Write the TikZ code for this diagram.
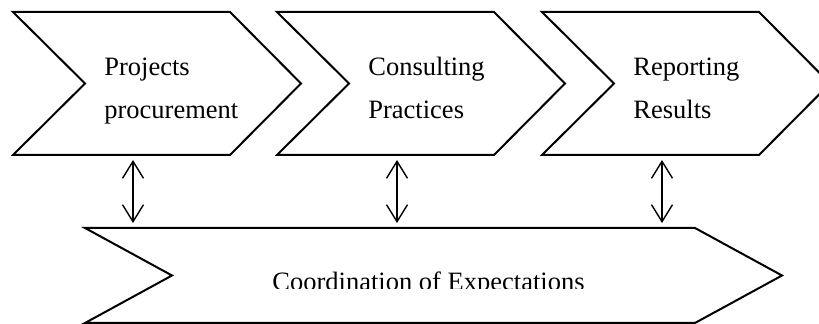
\documentclass[tikz,border=0pt]{standalone}
\usepackage{fontspec}
\setmainfont{Liberation Serif}
\usepackage{tikz}
\usetikzlibrary{arrows.meta, positioning}

\begin{document}
\begin{tikzpicture}[x=0.5pt, y=-0.5pt,
    chev/.style={draw, line width=1pt, line join=miter},
    lbl/.style={font=\fontsize{13.25}{21.5}\selectfont, align=left,
                anchor=base west, inner sep=0pt},
    dbl/.style={{Straight Barb[length=8.5pt,width=10.5pt]}-{Straight Barb[length=8.5pt,width=10.5pt]},
                line width=0.7pt}
  ]
    \useasboundingbox (0,0) rectangle (819,324);

    % Etapas (chevrons superiores)
    \foreach \x/\name/\txt in {13/proc/{Projects\\procurement},
                               277/cons/{Consulting\\Practices},
                               542/rep/{Reporting\\Results}}{
      \draw[chev] (\x,12) -- ++(217,0) -- ++(71,71.5) -- ++(-71,71.5)
                  -- ++(-217,0) -- ++(72,-71.5) -- cycle;
      \node[lbl] (\name) at (\x+91,119) {\txt};
      \coordinate (\name-s) at (\x+120,160);
      \coordinate (\name-e) at (\x+120,223);
    }

    % Faixa inferior
    \draw[chev] (85,228) -- (695,228) -- (782,275.5) -- (695,323)
                -- (85,323) -- (172,275.5) -- cycle;
    \begin{scope}
      \clip (85,228) rectangle (782,289);
      \node[lbl, anchor=base] (coord) at (428.5,291) {Coordination of Expectations};
    \end{scope}

    % Setas duplas
    \draw[dbl] (proc-s) -- (proc-e);
    \draw[dbl] (cons-s) -- (cons-e);
    \draw[dbl] (rep-s)  -- (rep-e);
\end{tikzpicture}
\end{document}
